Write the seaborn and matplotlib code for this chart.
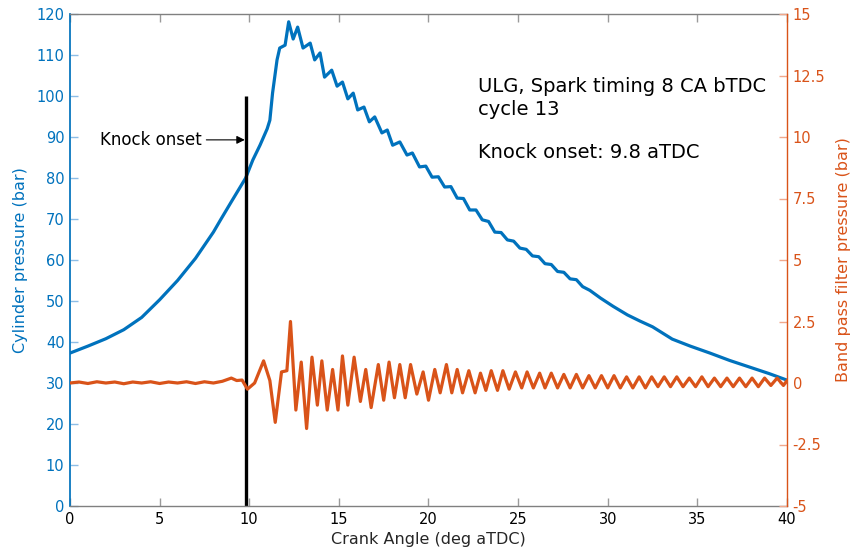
import matplotlib
matplotlib.use("Agg")
import matplotlib.pyplot as plt
import seaborn as sns
import pandas as pd

# ---------------- data ----------------
cyl_angle = [0, 1, 2, 3, 4, 5, 6, 7, 8, 8.4, 9, 9.8, 10.2, 10.6, 11.0, 11.15, 11.3, 11.55,
             11.7, 12.0, 12.2, 12.45, 12.7, 13.0, 13.4, 13.65, 13.95, 14.2, 14.6, 14.9,
             15.2, 15.5, 15.8, 16.05, 16.4, 16.7, 17.0, 17.4, 17.7, 18.0, 18.4, 18.8,
             19.1, 19.5, 19.85, 20.2, 20.55, 20.9, 21.25, 21.6, 21.95, 22.3, 22.65, 23.0,
             23.35, 23.7, 24.05, 24.4, 24.75, 25.1, 25.45, 25.8, 26.15, 26.5, 26.85, 27.2,
             27.55, 27.9, 28.25, 28.6, 29.0, 29.6, 30.3, 31.1, 31.8, 32.5, 33.6, 34.6,
             35.7, 36.8, 37.9, 39.0, 40.0]
cyl_pressure = [37.3, 39.0, 40.8, 43.0, 46.0, 50.3, 55.0, 60.4, 66.8, 69.8, 74.2, 80.0,
                84.4, 88.0, 92.0, 94.1, 100.7, 108.8, 111.7, 112.4, 118.1, 113.9, 116.8,
                111.7, 112.9, 108.8, 110.5, 104.6, 106.3, 102.4, 103.4, 99.3, 100.7, 96.6,
                97.3, 93.7, 94.9, 91.0, 91.7, 88.0, 88.8, 85.6, 86.1, 82.7, 82.9, 80.2,
                80.3, 77.8, 77.9, 75.1, 75.0, 72.2, 72.2, 69.8, 69.4, 66.8, 66.7, 64.9,
                64.6, 62.9, 62.6, 61.0, 60.8, 59.1, 58.9, 57.2, 57.0, 55.4, 55.2, 53.5,
                52.6, 50.7, 48.7, 46.6, 45.1, 43.7, 40.7, 39.0, 37.3, 35.5, 33.9, 32.3, 30.7]

bp_angle = [0, 0.5, 1.0, 1.5, 2.0, 2.5, 3.0, 3.5, 4.0, 4.5, 5.0, 5.5, 6.0, 6.5, 7.0, 7.5,
            8.0, 8.5, 9.0, 9.3, 9.6, 9.9, 10.3, 10.8, 11.15, 11.45, 11.8, 12.1,
            12.3, 12.6, 12.9, 13.2, 13.5, 13.8, 14.05, 14.35, 14.65, 14.95, 15.2, 15.5,
            15.85, 16.2, 16.5, 16.8, 17.2, 17.5, 17.8, 18.1, 18.4, 18.7, 19.0, 19.35,
            19.7, 20.0, 20.35, 20.65, 21.0, 21.3, 21.6, 21.9, 22.25, 22.6, 22.9, 23.2,
            23.5, 23.85, 24.15, 24.5, 24.85, 25.2, 25.5, 25.85, 26.2, 26.5, 26.85, 27.2,
            27.55, 27.9, 28.25, 28.6, 28.95, 29.3, 29.65, 30.0, 30.35, 30.7, 31.05, 31.4,
            31.75, 32.1, 32.45, 32.8, 33.15, 33.5, 33.85, 34.2, 34.55, 34.9, 35.25, 35.6,
            35.95, 36.3, 36.65, 37.0, 37.35, 37.7, 38.05, 38.4, 38.75, 39.1, 39.45, 39.8,
            40.0]
bp_pressure = [0.0, 0.04, -0.02, 0.05, 0.0, 0.04, -0.03, 0.04, 0.0, 0.05, -0.02, 0.04,
               0.0, 0.05, -0.02, 0.05, 0.0, 0.07, 0.2, 0.1, 0.12, -0.25, 0.0, 0.9, 0.1,
               -1.6, 0.45, 0.5,
               2.5, -1.1, 0.85, -1.85, 1.05, -0.9, 0.9, -1.1, 0.55, -1.1, 1.1, -0.9,
               1.05, -0.75, 0.55, -1.0, 0.75, -0.7, 0.85, -0.6, 0.75, -0.6, 0.75, -0.45,
               0.45, -0.7, 0.55, -0.4, 0.75, -0.4, 0.55, -0.4, 0.5, -0.4, 0.4, -0.3,
               0.5, -0.3, 0.5, -0.25, 0.45, -0.2, 0.45, -0.2, 0.4, -0.2, 0.4, -0.2,
               0.35, -0.2, 0.35, -0.2, 0.3, -0.2, 0.3, -0.2, 0.3, -0.2, 0.25, -0.2,
               0.25, -0.2, 0.25, -0.15, 0.25, -0.15, 0.25, -0.15, 0.2, -0.15, 0.25, -0.15,
               0.2, -0.15, 0.2, -0.15, 0.2, -0.15, 0.2, -0.15, 0.2, -0.1, 0.2, -0.1,
               0.1]

x_ticks = [0, 5, 10, 15, 20, 25, 30, 35, 40]
left_ticks = list(range(0, 121, 10))
right_ticks = [-5, -2.5, 0, 2.5, 5, 7.5, 10, 12.5, 15]
right_tick_labels = ["-5", "-2.5", "0", "2.5", "5", "7.5", "10", "12.5", "15"]

knock_onset = 9.8
knock_line_top = 100
knock_arrow_y = 89.3
knock_text_x = 1.67

title_lines = ["ULG, Spark timing 8 CA bTDC", "cycle 13", "Knock onset: 9.8 aTDC"]

# ---------------- style ----------------
BLUE = "#0072BD"
ORANGE = "#D95319"
sns.set_theme(style="white")
plt.rcParams["font.family"] = ["DejaVu Sans"]

df_cyl = pd.DataFrame({"angle": cyl_angle, "pressure": cyl_pressure})
df_bp = pd.DataFrame({"angle": bp_angle, "pressure": bp_pressure})

fig = plt.figure(figsize=(8.54, 5.56), dpi=100)
ax = fig.add_axes([70 / 854, 1 - 506 / 556, (787 - 70) / 854, (506 - 14) / 556])

sns.lineplot(data=df_cyl, x="angle", y="pressure", ax=ax, color=BLUE, lw=2.3,
             estimator=None, sort=False)
ax.vlines(knock_onset, 0, knock_line_top, color="black", lw=2.4)
ax.annotate("Knock onset", xy=(knock_onset - 0.05, knock_arrow_y),
            xytext=(knock_text_x, knock_arrow_y), va="center", ha="left", fontsize=12,
            color="black",
            arrowprops=dict(arrowstyle="-|>", color="black", lw=0.8,
                            shrinkA=1, shrinkB=0, mutation_scale=12))

ax.set_xlim(0, 40)
ax.set_ylim(0, 120)
ax.set_xticks(x_ticks)
ax.set_yticks(left_ticks)
ax.set_xlabel("Crank Angle (deg aTDC)", fontsize=11.5, color="#262626", labelpad=4)
ax.set_ylabel("Cylinder pressure (bar)", fontsize=11.5, color=BLUE, labelpad=6)

ax.tick_params(axis="y", which="major", direction="in", length=6, width=1,
               color="#8dbde6", labelcolor=BLUE, labelsize=10.5, right=True, left=True,
               pad=4)
ax.tick_params(axis="x", which="major", direction="in", length=6, width=1,
               color="#9a9a9a", labelcolor="black", labelsize=10.5, top=True, bottom=True,
               pad=4)

for s in ["top", "bottom"]:
    ax.spines[s].set_color("#808080")
    ax.spines[s].set_linewidth(1.0)
ax.spines["left"].set_color(BLUE)
ax.spines["right"].set_visible(False)

ax2 = ax.twinx()
sns.lineplot(data=df_bp, x="angle", y="pressure", ax=ax2, color=ORANGE, lw=2.3,
             estimator=None, sort=False)
ax2.set_ylim(-5, 15)
ax2.set_yticks(right_ticks)
ax2.set_yticklabels(right_tick_labels)
ax2.set_ylabel("Band pass filter pressure (bar)", fontsize=11.5, color=ORANGE,
               labelpad=8)
ax2.tick_params(axis="y", which="major", direction="in", length=6, width=1,
                color="#f0a88c", labelcolor=ORANGE, labelsize=10.5, pad=4)
for s in ["left", "top", "bottom"]:
    ax2.spines[s].set_visible(False)
ax2.spines["right"].set_color(ORANGE)
ax2.spines["right"].set_linewidth(1.0)
ax2.set_xlim(0, 40)

ax.text(22.76, 102.4, title_lines[0], fontsize=14, va="center", ha="left", color="black")
ax.text(22.76, 96.6, title_lines[1], fontsize=14, va="center", ha="left", color="black")
ax.text(22.76, 86.3, title_lines[2], fontsize=14, va="center", ha="left", color="black")

fig.savefig("out.png", dpi=100)
